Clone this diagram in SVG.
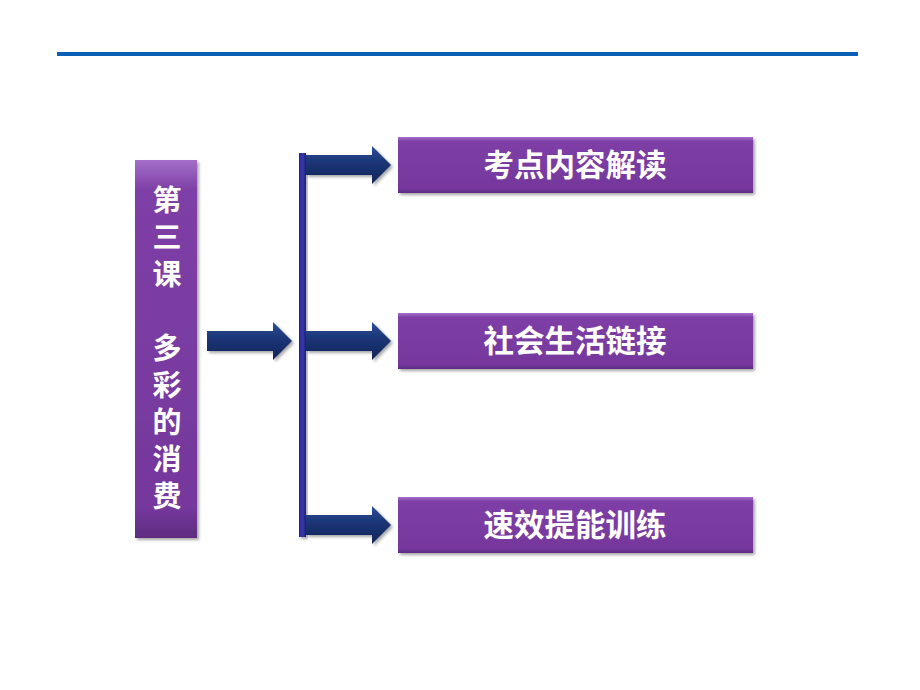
<svg xmlns="http://www.w3.org/2000/svg" width="920" height="690" viewBox="0 0 920 690">
<defs>
<linearGradient id="boxg" x1="0" y1="0" x2="0" y2="1">
<stop offset="0" stop-color="#a46fc9"/>
<stop offset="0.08" stop-color="#7e3fa6"/>
<stop offset="0.92" stop-color="#75389c"/>
<stop offset="1" stop-color="#5e2c80"/>
</linearGradient>
<linearGradient id="arrg" x1="0" y1="0" x2="0" y2="1">
<stop offset="0" stop-color="#2c4f96"/>
<stop offset="0.45" stop-color="#1b3475"/>
<stop offset="1" stop-color="#13255a"/>
</linearGradient>
<linearGradient id="barg" x1="0" y1="0" x2="1" y2="0">
<stop offset="0" stop-color="#25258a"/>
<stop offset="0.5" stop-color="#3838b0"/>
<stop offset="1" stop-color="#1e1e78"/>
</linearGradient>
<filter id="sh" x="-10%" y="-10%" width="130%" height="130%">
<feDropShadow dx="2" dy="2" stdDeviation="1.5" flood-color="#000" flood-opacity="0.35"/>
</filter>
<path id="arrow" d="M0,-10 H66 V-19 L85,0 L66,19 V10 H0 Z"/>
</defs>
<style>
.box{fill:url(#boxg);filter:url(#sh);}
.lbl{fill:#ffffff;font-family:"Liberation Sans","Noto Sans CJK SC",sans-serif;font-weight:bold;font-size:30.5px;text-anchor:middle;dominant-baseline:central;}
.vl{fill:#ffffff;font-family:"Liberation Sans","Noto Sans CJK SC",sans-serif;font-weight:bold;font-size:29px;text-anchor:middle;dominant-baseline:central;}
.arr{fill:url(#arrg);filter:url(#sh);}
</style>
<rect x="57" y="52" width="801" height="4" fill="#0b5fb5"/>
<g id="lesson">
<rect class="box" x="135" y="160" width="62" height="378"/>
<text class="vl" x="167" y="201">第</text>
<text class="vl" x="167" y="238">三</text>
<text class="vl" x="167" y="275">课</text>
<text class="vl" x="167" y="349">多</text>
<text class="vl" x="167" y="386">彩</text>
<text class="vl" x="167" y="423">的</text>
<text class="vl" x="167" y="460">消</text>
<text class="vl" x="167" y="497">费</text>
</g>
<g id="connectors">
<use href="#arrow" class="arr" transform="translate(207,341)"/>
<rect x="299" y="153" width="7" height="384" fill="url(#barg)" filter="url(#sh)"/>
<use href="#arrow" class="arr" transform="translate(306,165)"/>
<use href="#arrow" class="arr" transform="translate(306,341)"/>
<use href="#arrow" class="arr" transform="translate(306,525)"/>
</g>
<g id="n1">
<rect class="box" x="398" y="137" width="355" height="56"/>
<text class="lbl" x="575" y="165">考点内容解读</text>
</g>
<g id="n2">
<rect class="box" x="398" y="313" width="355" height="56"/>
<text class="lbl" x="575" y="341">社会生活链接</text>
</g>
<g id="n3">
<rect class="box" x="398" y="497" width="355" height="56"/>
<text class="lbl" x="575" y="525">速效提能训练</text>
</g>
</svg>
